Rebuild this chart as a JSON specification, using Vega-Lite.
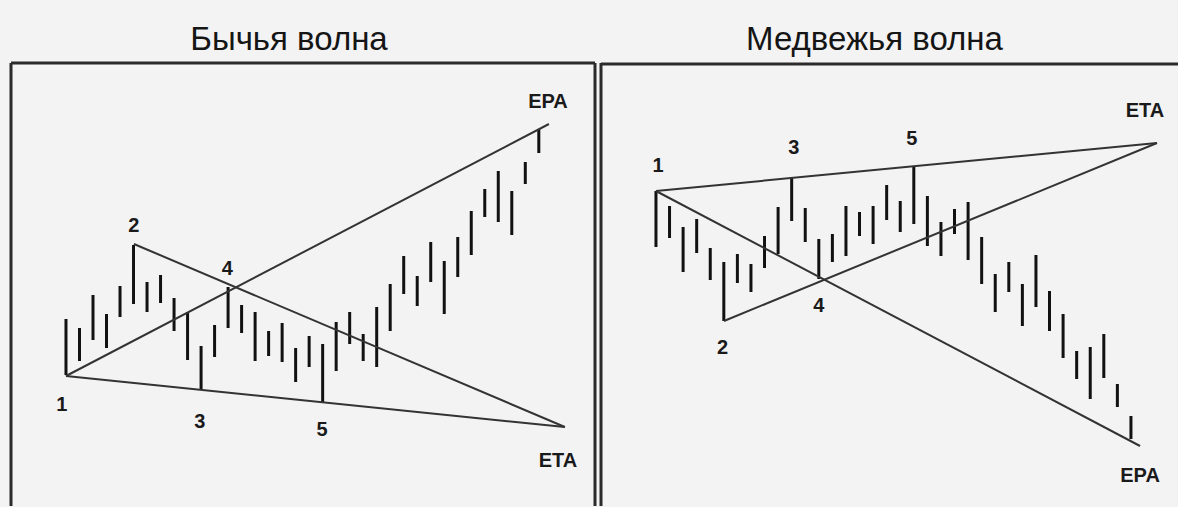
{
  "$schema": "https://vega.github.io/schema/vega-lite/v6.json",
  "background": "#f4f3f4",
  "padding": {"left": 9, "top": 23, "right": 0, "bottom": 0},
  "spacing": 2,
  "config": {
    "view": {"stroke": null},
    "axis": {"disable": true},
    "title": {"font": "Liberation Sans", "fontSize": 33, "fontWeight": "normal", "color": "#151515", "anchor": "middle", "offset": 5, "dx": -14}
  },
  "hconcat": [
    {
      "title": "Бычья волна",
      "width": 584,
      "height": 443,
      "layer": [
        {
          "data": {"values": [
            {"x": -3.07, "y": 1.3, "x2": -3.07, "y2": 45.6},
            {"x": -3.07, "y": 45.6, "x2": 40.16, "y2": 45.6},
            {"x": 40.16, "y": 45.6, "x2": 40.16, "y2": 1.3}
          ]},
          "mark": {"type": "rule", "color": "#2a2a2a", "strokeWidth": 3},
          "encoding": {
            "x": {"field": "x", "type": "quantitative", "scale": {"domain": [-3.07, 40.16], "nice": false, "zero": false}},
            "x2": {"field": "x2"},
            "y": {"field": "y", "type": "quantitative", "scale": {"domain": [1.3, 45.6], "nice": false, "zero": false}},
            "y2": {"field": "y2"}
          }
        },
        {
          "data": {"values": [
            {"bar": 1, "high": 20.0, "low": 14.4}, {"bar": 2, "high": 19.1, "low": 15.8},
            {"bar": 3, "high": 22.4, "low": 17.9}, {"bar": 4, "high": 20.5, "low": 17.1},
            {"bar": 5, "high": 23.3, "low": 20.2}, {"bar": 6, "high": 27.4, "low": 21.5},
            {"bar": 7, "high": 23.7, "low": 20.7}, {"bar": 8, "high": 24.4, "low": 21.6},
            {"bar": 9, "high": 22.1, "low": 18.8}, {"bar": 10, "high": 20.7, "low": 15.9},
            {"bar": 11, "high": 17.3, "low": 12.9}, {"bar": 12, "high": 19.4, "low": 16.2},
            {"bar": 13, "high": 23.2, "low": 19.1}, {"bar": 14, "high": 21.4, "low": 18.6},
            {"bar": 15, "high": 20.7, "low": 15.8}, {"bar": 16, "high": 18.8, "low": 16.3},
            {"bar": 17, "high": 19.6, "low": 15.7}, {"bar": 18, "high": 17.1, "low": 13.7},
            {"bar": 19, "high": 18.3, "low": 15.2}, {"bar": 20, "high": 17.5, "low": 11.7},
            {"bar": 21, "high": 19.7, "low": 14.8}, {"bar": 22, "high": 20.7, "low": 17.5},
            {"bar": 23, "high": 18.5, "low": 15.8}, {"bar": 24, "high": 21.2, "low": 15.2},
            {"bar": 25, "high": 23.5, "low": 18.8}, {"bar": 26, "high": 26.3, "low": 22.5},
            {"bar": 27, "high": 24.3, "low": 21.3}, {"bar": 28, "high": 27.7, "low": 23.7},
            {"bar": 29, "high": 25.8, "low": 20.5}, {"bar": 30, "high": 28.2, "low": 24.2},
            {"bar": 31, "high": 30.8, "low": 26.4}, {"bar": 32, "high": 33.0, "low": 30.2},
            {"bar": 33, "high": 34.8, "low": 29.7}, {"bar": 34, "high": 32.8, "low": 28.4},
            {"bar": 35, "high": 35.7, "low": 33.5}, {"bar": 36, "high": 39.0, "low": 36.6}
          ]},
          "mark": {"type": "rule", "color": "#111111", "strokeWidth": 3},
          "encoding": {
            "x": {"field": "bar", "type": "quantitative"},
            "y": {"field": "low", "type": "quantitative"},
            "y2": {"field": "high"}
          }
        },
        {
          "data": {"values": [
            {"line": "1-ETA", "x": 1, "y": 14.3, "x2": 37.93, "y2": 9.2},
            {"line": "2-ETA", "x": 6.03, "y": 27.5, "x2": 37.93, "y2": 9.2},
            {"line": "1-EPA", "x": 1, "y": 14.3, "x2": 36.75, "y2": 39.5}
          ]},
          "mark": {"type": "rule", "color": "#333333", "strokeWidth": 2},
          "encoding": {
            "x": {"field": "x", "type": "quantitative"},
            "x2": {"field": "x2"},
            "y": {"field": "y", "type": "quantitative"},
            "y2": {"field": "y2"}
          }
        },
        {
          "data": {"values": [
            {"label": "1", "x": 0.7, "y": 11.4},
            {"label": "2", "x": 6.03, "y": 29.3},
            {"label": "3", "x": 10.9, "y": 9.7},
            {"label": "4", "x": 12.95, "y": 25.0},
            {"label": "5", "x": 19.95, "y": 8.9},
            {"label": "EPA", "x": 36.68, "y": 41.7},
            {"label": "ETA", "x": 37.42, "y": 5.8}
          ]},
          "mark": {"type": "text", "font": "Liberation Sans", "fontWeight": "bold", "fontSize": 20, "color": "#1a1a1a", "align": "center", "baseline": "middle"},
          "encoding": {
            "x": {"field": "x", "type": "quantitative"},
            "y": {"field": "y", "type": "quantitative"},
            "text": {"field": "label"}
          }
        }
      ]
    },
    {
      "title": "Медвежья волна",
      "width": 575,
      "height": 443,
      "layer": [
        {
          "data": {"values": [
            {"x": -3.05, "y": 1.3, "x2": -3.05, "y2": 45.6},
            {"x": -3.05, "y": 45.5, "x2": 40.0, "y2": 45.5}
          ]},
          "mark": {"type": "rule", "color": "#2a2a2a", "strokeWidth": 3},
          "encoding": {
            "x": {"field": "x", "type": "quantitative", "scale": {"domain": [-3.05, 39.32], "nice": false, "zero": false}},
            "x2": {"field": "x2"},
            "y": {"field": "y", "type": "quantitative", "scale": {"domain": [1.3, 45.6], "nice": false, "zero": false}},
            "y2": {"field": "y2"}
          }
        },
        {
          "data": {"values": [
            {"bar": 1, "high": 32.8, "low": 27.2}, {"bar": 2, "high": 31.3, "low": 28.1},
            {"bar": 3, "high": 29.2, "low": 24.7}, {"bar": 4, "high": 30.0, "low": 26.6},
            {"bar": 5, "high": 27.1, "low": 23.9}, {"bar": 6, "high": 25.7, "low": 19.8},
            {"bar": 7, "high": 26.5, "low": 23.6}, {"bar": 8, "high": 25.5, "low": 22.7},
            {"bar": 9, "high": 28.3, "low": 25.1}, {"bar": 10, "high": 31.2, "low": 26.5},
            {"bar": 11, "high": 34.2, "low": 29.8}, {"bar": 12, "high": 31.1, "low": 27.7},
            {"bar": 13, "high": 28.0, "low": 24.0}, {"bar": 14, "high": 28.5, "low": 25.7},
            {"bar": 15, "high": 31.3, "low": 26.3}, {"bar": 16, "high": 30.7, "low": 28.3},
            {"bar": 17, "high": 31.3, "low": 27.5}, {"bar": 18, "high": 33.4, "low": 29.9},
            {"bar": 19, "high": 31.8, "low": 28.7}, {"bar": 20, "high": 35.3, "low": 29.5},
            {"bar": 21, "high": 32.3, "low": 27.3}, {"bar": 22, "high": 29.7, "low": 26.3},
            {"bar": 23, "high": 31.0, "low": 28.5}, {"bar": 24, "high": 31.7, "low": 25.9},
            {"bar": 25, "high": 28.2, "low": 23.5}, {"bar": 26, "high": 24.5, "low": 20.7},
            {"bar": 27, "high": 25.7, "low": 22.7}, {"bar": 28, "high": 23.5, "low": 19.3},
            {"bar": 29, "high": 26.4, "low": 21.2}, {"bar": 30, "high": 22.8, "low": 18.8},
            {"bar": 31, "high": 20.5, "low": 16.1}, {"bar": 32, "high": 16.8, "low": 14.0},
            {"bar": 33, "high": 17.2, "low": 12.0}, {"bar": 34, "high": 18.5, "low": 14.1},
            {"bar": 35, "high": 13.5, "low": 11.2}, {"bar": 36, "high": 10.3, "low": 8.0}
          ]},
          "mark": {"type": "rule", "color": "#111111", "strokeWidth": 3},
          "encoding": {
            "x": {"field": "bar", "type": "quantitative"},
            "y": {"field": "low", "type": "quantitative"},
            "y2": {"field": "high"}
          }
        },
        {
          "data": {"values": [
            {"line": "1-ETA", "x": 1, "y": 32.8, "x2": 37.92, "y2": 37.6},
            {"line": "1-EPA", "x": 1, "y": 32.8, "x2": 36.67, "y2": 7.3},
            {"line": "2-ETA", "x": 6.01, "y": 19.8, "x2": 37.92, "y2": 37.6}
          ]},
          "mark": {"type": "rule", "color": "#333333", "strokeWidth": 2},
          "encoding": {
            "x": {"field": "x", "type": "quantitative"},
            "x2": {"field": "x2"},
            "y": {"field": "y", "type": "quantitative"},
            "y2": {"field": "y2"}
          }
        },
        {
          "data": {"values": [
            {"label": "1", "x": 1.15, "y": 35.3},
            {"label": "2", "x": 5.9, "y": 17.1},
            {"label": "3", "x": 11.15, "y": 37.1},
            {"label": "4", "x": 13.0, "y": 21.3},
            {"label": "5", "x": 19.85, "y": 38.0},
            {"label": "ETA", "x": 37.03, "y": 40.8},
            {"label": "EPA", "x": 36.67, "y": 4.3}
          ]},
          "mark": {"type": "text", "font": "Liberation Sans", "fontWeight": "bold", "fontSize": 20, "color": "#1a1a1a", "align": "center", "baseline": "middle"},
          "encoding": {
            "x": {"field": "x", "type": "quantitative"},
            "y": {"field": "y", "type": "quantitative"},
            "text": {"field": "label"}
          }
        }
      ]
    }
  ]
}
